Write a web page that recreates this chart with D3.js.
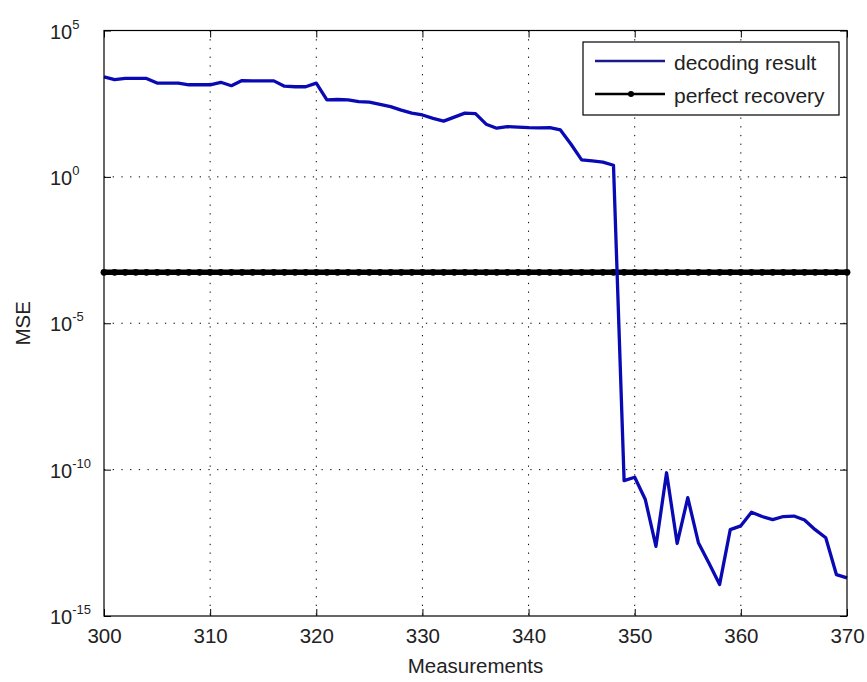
<!DOCTYPE html>
<html>
<head>
<meta charset="utf-8">
<script src="https://cdn.jsdelivr.net/npm/d3@7"></script>
<style>
  body { margin: 0; background: #fff; }
  text { font-family: "Liberation Sans", Arial, sans-serif; fill: #222; }
</style>
</head>
<body>
<div id="chart"></div>
<script>
// measurements 300..370
var measurements = d3.range(300, 371);

// MSE of the decoding result
var mseDecoding = [
  2.6e3, 2.1e3, 2.3e3, 2.3e3, 2.3e3, 1.6e3, 1.6e3, 1.6e3, 1.4e3, 1.4e3,
  1.4e3, 1.7e3, 1.3e3, 1.95e3, 1.9e3, 1.9e3, 1.9e3, 1.25e3, 1.2e3, 1.2e3,
  1.6e3, 4.3e2, 4.4e2, 4.3e2, 3.7e2, 3.6e2, 3.0e2, 2.5e2, 1.9e2, 1.5e2,
  1.3e2, 1.0e2, 8.0e1, 1.1e2, 1.5e2, 1.45e2, 6.3e1, 4.6e1, 5.2e1, 5.0e1,
  4.8e1, 4.7e1, 4.8e1, 4.0e1, 1.3e1, 3.8, 3.5, 3.2, 2.5, 4.2e-11,
  5.5e-11, 9.5e-12, 2.4e-13, 7.8e-11, 3.0e-13, 1.1e-11, 3.2e-13, 6.3e-14, 1.2e-14, 8.9e-13,
  1.2e-12, 3.5e-12, 2.5e-12, 1.95e-12, 2.5e-12, 2.6e-12, 1.9e-12, 8.9e-13, 4.7e-13, 2.6e-14,
  2.0e-14
];

// perfect recovery threshold (constant)
var perfectLevel = 5.5e-4;

var xTicks = [300, 310, 320, 330, 340, 350, 360, 370];
var yTicks = [1e5, 1e0, 1e-5, 1e-10, 1e-15];
var yExponents = ["5", "0", "-5", "-10", "-15"];
var legendLabels = ["decoding result", "perfect recovery"];

var width = 867,
    height = 682;
var margin = { top: 30.5, right: 20, bottom: 66, left: 104 };
var plotW = width - margin.left - margin.right,
    plotH = height - margin.top - margin.bottom;

var svg = d3.select("#chart").append("svg")
    .attr("width", width)
    .attr("height", height);

svg.append("rect").attr("width", width).attr("height", height).attr("fill", "#fff");

var g = svg.append("g")
    .attr("transform", "translate(" + margin.left + "," + margin.top + ")");

var x = d3.scaleLinear().domain([300, 370]).range([0, plotW]);
var y = d3.scaleLog().domain([1e-15, 1e5]).range([plotH, 0]);

// grid (dotted)
g.selectAll(".vgrid")
  .data(xTicks.slice(1, -1))
  .enter().append("line")
    .attr("x1", function(d) { return x(d); })
    .attr("x2", function(d) { return x(d); })
    .attr("y1", 0).attr("y2", plotH)
    .attr("stroke", "#000").attr("stroke-width", 1)
    .attr("stroke-dasharray", "1.3,7.4");

g.selectAll(".hgrid")
  .data(yTicks.slice(1, -1))
  .enter().append("line")
    .attr("x1", 0).attr("x2", plotW)
    .attr("y1", function(d) { return y(d); })
    .attr("y2", function(d) { return y(d); })
    .attr("stroke", "#000").attr("stroke-width", 1)
    .attr("stroke-dasharray", "1.3,7.4");

// axes, ticks pointing inward
var xAxis = g.append("g")
    .attr("transform", "translate(0," + plotH + ")")
    .call(d3.axisBottom(x).tickValues(xTicks).tickSizeInner(-7).tickSizeOuter(0).tickPadding(12));
xAxis.selectAll("text").style("font-size", "20.5px").attr("fill", "#222");

g.append("g")
    .call(d3.axisTop(x).tickValues(xTicks).tickSizeInner(-7).tickSizeOuter(0).tickFormat(""));

g.append("g")
    .call(d3.axisLeft(y).tickValues(yTicks).tickSizeInner(-7).tickSizeOuter(0).tickFormat(""));

g.append("g")
    .attr("transform", "translate(" + plotW + ",0)")
    .call(d3.axisRight(y).tickValues(yTicks).tickSizeInner(-7).tickSizeOuter(0).tickFormat(""));

g.selectAll(".domain").remove();
g.selectAll(".tick line").attr("stroke", "#000");

// y tick labels 10^n
var yLab = g.selectAll(".ylab")
  .data(yTicks)
  .enter().append("text")
    .attr("x", 50 - margin.left)
    .attr("y", function(d) { return y(d) + 8; })
    .style("font-size", "20px");
yLab.append("tspan").text("10");
yLab.append("tspan")
    .attr("dy", -10)
    .style("font-size", "13px")
    .text(function(d, i) { return yExponents[i]; });

// lines
var line = d3.line()
    .x(function(d) { return x(d[0]); })
    .y(function(d) { return y(d[1]); });

var perfectData = measurements.map(function(m) { return [m, perfectLevel]; });
var decodingData = measurements.map(function(m, i) { return [m, mseDecoding[i]]; });

g.append("path")
    .datum(perfectData)
    .attr("d", line)
    .attr("fill", "none")
    .attr("stroke", "#000")
    .attr("stroke-width", 5.5);

g.selectAll(".pdot")
  .data(perfectData)
  .enter().append("circle")
    .attr("cx", function(d) { return x(d[0]); })
    .attr("cy", function(d) { return y(d[1]); })
    .attr("r", 3.4)
    .attr("fill", "#000");

g.append("path")
    .datum(decodingData)
    .attr("d", line)
    .attr("fill", "none")
    .attr("stroke", "#0a0ab4")
    .attr("stroke-width", 3.3)
    .attr("stroke-linejoin", "round");

// box
g.append("rect")
    .attr("width", plotW).attr("height", plotH)
    .attr("fill", "none").attr("stroke", "#000").attr("stroke-width", 1.2);

// axis labels
svg.append("text")
    .attr("x", margin.left + plotW / 2)
    .attr("y", 673)
    .attr("text-anchor", "middle")
    .style("font-size", "20.5px")
    .text("Measurements");

svg.append("text")
    .attr("transform", "translate(30," + (margin.top + plotH / 2) + ") rotate(-90)")
    .attr("text-anchor", "middle")
    .style("font-size", "20.5px")
    .text("MSE");

// legend
var legend = svg.append("g").attr("transform", "translate(583,42)");
legend.append("rect")
    .attr("width", 256).attr("height", 73)
    .attr("fill", "#fff").attr("stroke", "#000").attr("stroke-width", 1.2);

var legendColors = ["#1a1a8c", "#000"];
var legendItems = legend.selectAll(".item")
  .data(legendLabels)
  .enter().append("g")
    .attr("transform", function(d, i) { return "translate(0," + (19 + i * 33) + ")"; });

legendItems.append("line")
    .attr("x1", 12).attr("x2", 82)
    .attr("stroke", function(d, i) { return legendColors[i]; })
    .attr("stroke-width", 2.5);

legendItems.filter(function(d, i) { return i == 1; })
  .append("circle")
    .attr("cx", 48).attr("r", 3).attr("fill", "#000");

legendItems.append("text")
    .attr("x", 91)
    .attr("y", 9)
    .style("font-size", "21px")
    .text(function(d) { return d; });
</script>
</body>
</html>
